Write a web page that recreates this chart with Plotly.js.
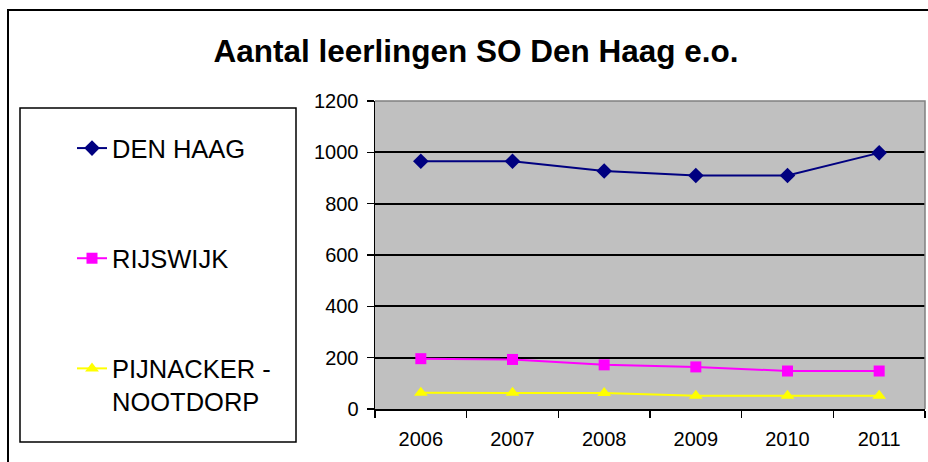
<!DOCTYPE html>
<html>
<head>
<meta charset="utf-8">
<script src="https://cdn.plot.ly/plotly-3.0.1.min.js"></script>
<style>
html,body{margin:0;padding:0;background:#fff;}
#chart{width:928px;height:462px;}
</style>
</head>
<body>
<div id="chart"></div>
<script>
// ---- data ----
const years = ["2006", "2007", "2008", "2009", "2010", "2011"];
const denHaag = [965, 965, 927, 910, 910, 998];
const rijswijk = [196, 193, 172, 164, 148, 148];
const pijnacker = [63, 63, 62, 52, 52, 52];
const seriesNames = ["DEN HAAG", "RIJSWIJK", "PIJNACKER -<br>NOOTDORP"];
const yTicks = [0, 200, 400, 600, 800, 1000, 1200];

// ---- layout geometry (pixels) ----
const W = 928, H = 462;
const plotL = 375, plotR = 925, plotT = 101, plotB = 409;
const pw = plotR - plotL, ph = plotB - plotT;
const px = x => (x - plotL) / pw;
const py = y => (plotB - y) / ph;

const font = "Arial, 'Liberation Sans', sans-serif";

const traces = [
  {x: years, y: denHaag, name: seriesNames[0], legendgroup: "a",
   type: "scatter", mode: "lines+markers",
   line: {color: "#000080", width: 2},
   marker: {symbol: "diamond", size: 12, color: "#000080"}},
  {x: years, y: rijswijk, name: seriesNames[1], legendgroup: "b",
   type: "scatter", mode: "lines+markers",
   line: {color: "#FF00FF", width: 2},
   marker: {symbol: "square", size: 11, color: "#FF00FF"}},
  {x: years, y: pijnacker, name: seriesNames[2], legendgroup: "c",
   type: "scatter", mode: "lines+markers",
   line: {color: "#FFFF00", width: 2},
   marker: {symbol: "triangle-up", size: 12, color: "#FFFF00"}}
];

const layout = {
  width: W, height: H,
  paper_bgcolor: "#ffffff",
  plot_bgcolor: "#C0C0C0",
  margin: {l: plotL, r: W - plotR, t: plotT, b: H - plotB, pad: 0},
  font: {family: font, color: "#000000"},
  title: {
    text: "<b>Aantal leerlingen SO Den Haag e.o.</b>",
    font: {family: font, size: 31.5, color: "#000000"},
    x: 476 / W, xref: "container", xanchor: "center",
    y: 1 - 51 / H, yref: "container", yanchor: "middle"
  },
  xaxis: {
    type: "category",
    categoryorder: "array", categoryarray: years,
    range: [-0.5, years.length - 0.5],
    showgrid: false, zeroline: false,
    showline: true, linecolor: "#000000", linewidth: 1.5,
    ticks: "outside", tickson: "boundaries", ticklen: 7, tickwidth: 1.5, tickcolor: "#000000",
    tickfont: {family: font, size: 20, color: "#000000"},
    ticklabelstandoff: 11,
    fixedrange: true
  },
  yaxis: {
    range: [0, 1200],
    tickvals: yTicks, ticktext: yTicks.map(String),
    showgrid: true, gridcolor: "#000000", gridwidth: 1.8,
    zeroline: false,
    showline: true, linecolor: "#000000", linewidth: 1.5,
    ticks: "outside", ticklen: 7, tickwidth: 1.5, tickcolor: "#000000",
    tickfont: {family: font, size: 20, color: "#000000"},
    ticklabelstandoff: 4,
    fixedrange: true
  },
  showlegend: true,
  legend: {
    xref: "container", yref: "container",
    x: 72 / W, xanchor: "left",
    y: 1 - 125 / H, yanchor: "top",
    bgcolor: "rgba(0,0,0,0)", borderwidth: 0,
    traceorder: "grouped", tracegroupgap: 74,
    valign: "top",
    maxheight: 420,
    font: {family: font, size: 25.5, color: "#000000"}
  },
  shapes: [
    // outer chart frame
    {type: "rect", xref: "paper", yref: "paper",
     x0: px(8), x1: px(940), y0: py(480), y1: py(10),
     line: {color: "#000000", width: 2}, fillcolor: "rgba(0,0,0,0)", layer: "below"},
    // legend box
    {type: "rect", xref: "paper", yref: "paper",
     x0: px(20), x1: px(296), y0: py(442), y1: py(108),
     line: {color: "#000000", width: 1.5}, fillcolor: "#ffffff", layer: "below"},
    // plot area top/right gray border
    {type: "path", xref: "paper", yref: "paper",
     path: "M 0 1 L 1 1 L 1 0",
     line: {color: "#808080", width: 1.5}, layer: "above"}
  ]
};

Plotly.newPlot("chart", traces, layout, {displayModeBar: false, staticPlot: true});
</script>
</body>
</html>
